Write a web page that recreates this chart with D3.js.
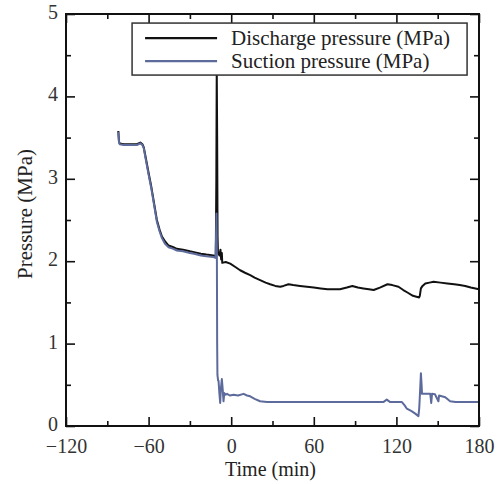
<!DOCTYPE html>
<html>
<head>
<meta charset="utf-8">
<script src="https://cdn.jsdelivr.net/npm/d3@7"></script>
<style>
  body { margin: 0; background: #fff; }
  svg { display: block; }
  .axis text { font-family: "Liberation Serif", "Times New Roman", serif; font-size: 20px; fill: #333; }
  .axis path { display: none; }
  .axis line { stroke: #111; stroke-width: 1.6; }
</style>
</head>
<body>
<svg id="chart" width="499" height="484"></svg>
<script>
// DATA
const xTicks = [-120, -60, 0, 60, 120, 180];
const xMinor = [-90, -30, 30, 90, 150];
const yTicks = [0, 1, 2, 3, 4, 5];
const yMinor = [0.5, 1.5, 2.5, 3.5, 4.5];
const seriesNames = ["Discharge pressure (MPa)", "Suction pressure (MPa)"];
const seriesColors = ["#111111", "#5d6a9c"];

const dischargeT = [-82, -81.5, -81, -78, -72, -68.5, -66, -64.5, -63.5, -62, -60, -58, -56.5, -55, -54, -52,
  -50.3, -48, -45.5, -42, -39.5, -35, -30, -27, -22, -18, -13, -11.2, -10.8, -10.5, -10.2, -9.9, -9.6, -8.5,
  -7.8, -7.3, -6.8, -6.5, -4, -0.7, 3, 6.5, 10, 13.8, 17, 21, 25, 28.3, 32, 35.6, 38, 41.6, 45, 50, 55, 60,
  65, 70, 75, 79, 84, 88, 92, 96, 100, 103.5, 108, 113.5, 117, 121.5, 125, 128, 132, 136.5, 137, 137.8, 139,
  141, 144, 147, 152, 157, 162, 166, 170, 174, 180];
const dischargeP = [3.58, 3.45, 3.43, 3.42, 3.42, 3.42, 3.44, 3.42, 3.38, 3.25, 3.07, 2.90, 2.75, 2.60, 2.50, 2.38,
  2.30, 2.24, 2.19, 2.17, 2.15, 2.14, 2.12, 2.11, 2.09, 2.08, 2.07, 2.06, 3.0, 4.35, 3.5, 2.3, 2.10, 2.07,
  2.14, 2.02, 2.10, 1.98, 1.99, 1.97, 1.93, 1.89, 1.86, 1.83, 1.80, 1.77, 1.74, 1.72, 1.70, 1.69, 1.70, 1.72, 1.71, 1.70, 1.69, 1.68,
  1.67, 1.66, 1.66, 1.66, 1.68, 1.70, 1.68, 1.67, 1.66, 1.65, 1.68, 1.72, 1.71, 1.69, 1.65, 1.62, 1.58, 1.56, 1.58, 1.67, 1.70,
  1.73, 1.74, 1.75, 1.74, 1.73, 1.72, 1.71, 1.70, 1.68, 1.66];

const suctionT = [-82, -81.5, -81, -78, -72, -68.5, -66, -64.5, -63.5, -62, -60, -58, -56.5, -55, -54, -52,
  -50.3, -48, -45.5, -42, -39.5, -35, -30, -27, -22, -18, -13, -11.4, -11.0, -10.7, -10.4, -10.2, -10.0, -9.5,
  -9.2, -8.6, -8.0, -7.5, -6.8, -6.2, -5.6, -5.0, -4.0, -3, -1, 1.7, 5, 9, 11.5, 13.8, 17, 21, 26, 33, 40, 50,
  60, 70, 80, 91, 100, 110.5, 113, 115.5, 124, 126, 127.6, 131, 133.7, 136, 136.6, 137.2, 137.8, 138.3, 138.6,
  141, 144.6, 145.3, 145.9, 148, 150.5, 151, 155.5, 159, 163, 170, 180];
const suctionP = [3.57, 3.44, 3.42, 3.41, 3.41, 3.41, 3.43, 3.41, 3.37, 3.23, 3.05, 2.88, 2.73, 2.58, 2.48, 2.36,
  2.28, 2.21, 2.17, 2.15, 2.13, 2.12, 2.10, 2.09, 2.07, 2.06, 2.05, 2.04, 2.30, 2.58, 2.1, 1.0, 0.62, 0.55,
  0.55, 0.40, 0.28, 0.45, 0.57, 0.45, 0.30, 0.40, 0.38, 0.39, 0.37, 0.38, 0.37, 0.39, 0.37, 0.36, 0.33, 0.30, 0.29, 0.29, 0.29, 0.29,
  0.29, 0.29, 0.29, 0.29, 0.29, 0.29, 0.32, 0.29, 0.29, 0.25, 0.21, 0.18, 0.15, 0.12, 0.22, 0.42, 0.64, 0.50, 0.39,
  0.39, 0.39, 0.28, 0.39, 0.385, 0.30, 0.37, 0.35, 0.30, 0.29, 0.29, 0.29];

// CANVAS SETUP
const svg = d3.select("#chart");
const margin = { top: 14, right: 20, bottom: 58, left: 66 },
  width = +svg.attr("width") - margin.left - margin.right,
  height = +svg.attr("height") - margin.top - margin.bottom;

const g = svg.append("g").attr("transform", `translate(${margin.left},${margin.top})`);

const x = d3.scaleLinear().domain([-120, 180]).range([0, width]);
const y = d3.scaleLinear().domain([0, 5]).range([height, 0]);

// ticks, pointing inward on all four sides
const major = 9, minor = 5;
const fmt = (d) => (d < 0 ? "\u2212" + Math.abs(d) : d);

g.append("g").attr("class", "axis").attr("transform", `translate(0,${height})`)
  .call(d3.axisBottom(x).tickValues(xTicks).tickSizeInner(-major).tickSizeOuter(0).tickPadding(21).tickFormat(fmt))
  .call((a) => a.selectAll("text").attr("dy", "0.3em"));
g.append("g").attr("class", "axis").attr("transform", `translate(0,${height})`)
  .call(d3.axisBottom(x).tickValues(xMinor).tickSizeInner(-minor).tickSizeOuter(0).tickFormat(""));
g.append("g").attr("class", "axis")
  .call(d3.axisTop(x).tickValues(xTicks).tickSizeInner(-major).tickSizeOuter(0).tickFormat(""));
g.append("g").attr("class", "axis")
  .call(d3.axisTop(x).tickValues(xMinor).tickSizeInner(-minor).tickSizeOuter(0).tickFormat(""));

g.append("g").attr("class", "axis")
  .call(d3.axisLeft(y).tickValues(yTicks).tickSizeInner(-major).tickSizeOuter(0).tickPadding(8).tickFormat(d3.format("d")))
  .call((a) => a.selectAll("text").attr("dy", "0.22em"));
g.append("g").attr("class", "axis")
  .call(d3.axisLeft(y).tickValues(yMinor).tickSizeInner(-minor).tickSizeOuter(0).tickFormat(""));
g.append("g").attr("class", "axis").attr("transform", `translate(${width},0)`)
  .call(d3.axisRight(y).tickValues(yTicks).tickSizeInner(-major).tickSizeOuter(0).tickFormat(""));
g.append("g").attr("class", "axis").attr("transform", `translate(${width},0)`)
  .call(d3.axisRight(y).tickValues(yMinor).tickSizeInner(-minor).tickSizeOuter(0).tickFormat(""));

// LINES
const line = d3.line().x((d) => x(d[0])).y((d) => y(d[1]));
const discharge = dischargeT.map((t, i) => [t, dischargeP[i]]);
const suction = suctionT.map((t, i) => [t, suctionP[i]]);

g.append("path").datum(discharge)
  .attr("d", line).attr("fill", "none")
  .attr("stroke", seriesColors[0]).attr("stroke-width", 2).attr("stroke-linejoin", "round");
g.append("path").datum(suction)
  .attr("d", line).attr("fill", "none")
  .attr("stroke", seriesColors[1]).attr("stroke-width", 2).attr("stroke-linejoin", "round");

// frame
g.append("rect").attr("width", width).attr("height", height)
  .attr("fill", "none").attr("stroke", "#111").attr("stroke-width", 2);

// LEGEND
const lg = g.append("g").attr("transform", `translate(${x(-72)},${y(4.89)})`);
lg.append("rect").attr("width", 335).attr("height", 52)
  .attr("fill", "#fff").attr("stroke", "#333").attr("stroke-width", 1.5);
seriesNames.forEach((name, i) => {
  const row = lg.append("g").attr("transform", `translate(0,${15 + i * 23})`);
  row.append("line").attr("x1", 13).attr("x2", 85)
    .attr("stroke", seriesColors[i]).attr("stroke-width", 2.2);
  row.append("text").attr("x", 99).attr("dy", "0.33em")
    .style("font-family", '"Liberation Serif", "Times New Roman", serif')
    .style("font-size", "21px").attr("fill", "#222").text(name);
});

// AXIS TITLES
svg.append("text")
  .attr("x", margin.left + width / 2 - 2).attr("y", 476)
  .attr("text-anchor", "middle")
  .style("font-family", '"Liberation Serif", "Times New Roman", serif')
  .style("font-size", "20px").attr("fill", "#222").text("Time (min)");
svg.append("text")
  .attr("transform", `translate(32,${214}) rotate(-90)`)
  .attr("text-anchor", "middle")
  .style("font-family", '"Liberation Serif", "Times New Roman", serif')
  .style("font-size", "21px").attr("fill", "#222").text("Pressure (MPa)");
</script>
</body>
</html>
